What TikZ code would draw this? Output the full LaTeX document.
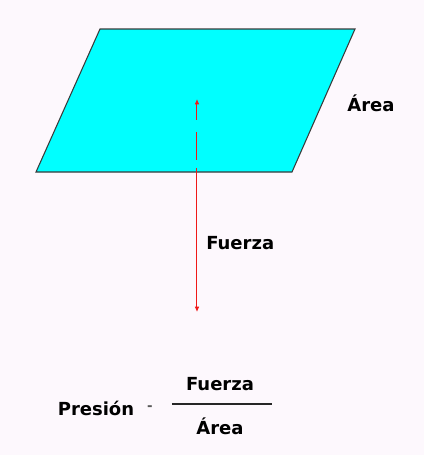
\documentclass[tikz,border=0pt]{standalone}
\usepackage{fontspec}
\usepackage{xcolor}
\usepackage{tikz}
\usetikzlibrary{arrows.meta,positioning}
\newfontfamily\lblfont{DejaVu Sans}
\definecolor{presbg}{HTML}{FDF8FD}
\definecolor{presplane}{HTML}{00FFFF}
\definecolor{presedge}{HTML}{3A3A3A}
\definecolor{presred}{HTML}{F01818}

\begin{document}
\begin{tikzpicture}[x=0.75pt,y=-0.75pt,
  plane/.style={draw=presedge,fill=presplane,line width=0.8pt,line join=miter},
  force/.style={draw=presred,line width=0.75pt,{Latex[length=4pt,width=3.5pt]}-{Latex[length=4pt,width=3.5pt]},
    dash pattern={on 12pt off 9pt on 21pt off 6pt on 200pt}},
  lbl/.style={font=\lblfont\bfseries\fontsize{13.5}{15}\selectfont,inner sep=0pt,text=black},
  bar/.style={line width=1.6pt,draw=black!85}
]
\fill[presbg] (0,0) rectangle (424,455);
\useasboundingbox (0,0) rectangle (424,455);
\coordinate (nw) at (100,29);
\coordinate (ne) at (355,29);
\coordinate (se) at (292,172);
\coordinate (sw) at (36,172);
\draw[plane] (nw) -- (ne) -- (se) -- (sw) -- cycle;
\coordinate (tip) at (197,99);
\coordinate (foot) at (197,312);
\draw[force] (tip) -- (foot);
\node[lbl] (area) at (371,103) {Área};
\node[lbl,anchor=west] (fuerza) at (206,243) {Fuerza};
\node[lbl] (presion) at (96,408) {Presión};
\node[lbl,font=\lblfont\bfseries\fontsize{10}{12}\selectfont,text=black!65] (eq) at (150,408) {-};
\node[lbl] (num) at (220,384) {Fuerza};
\coordinate (barl) at (172,404);
\coordinate (barr) at (272,404);
\draw[bar] (barl) -- (barr);
\node[lbl] (den) at (220,426) {Área};
\end{tikzpicture}
\end{document}
